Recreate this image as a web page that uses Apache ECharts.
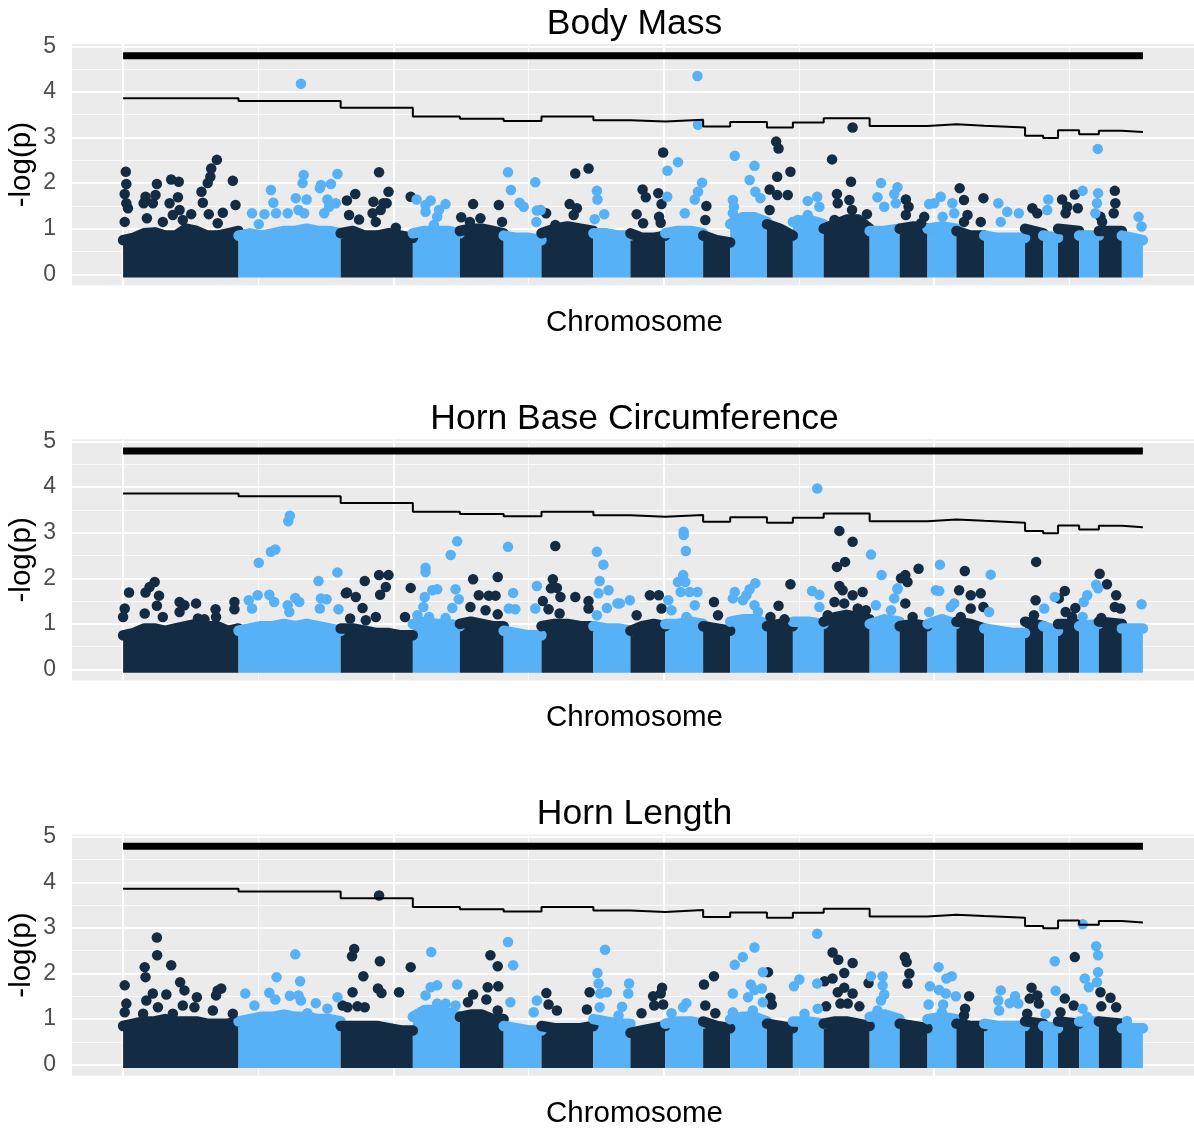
<!DOCTYPE html>
<html><head><meta charset="utf-8">
<script src="https://cdn.jsdelivr.net/npm/echarts@6/dist/echarts.min.js"></script>
<style>html,body{margin:0;padding:0;background:#fff}#chart{width:1194px;height:1129px}</style>
</head><body><div id="chart"></div>
<script>
// ---------------- data ----------------
const panelTitles = ['Body Mass', 'Horn Base Circumference', 'Horn Length'];
const xTitle = 'Chromosome';
const yTitle = '-log(p)';
const yTicks = [0, 1, 2, 3, 4, 5];
const yMinor = [0.5, 1.5, 2.5, 3.5, 4.5];
const xMajor = [0, 1000, 2000, 3000];
const xMinor = [500, 1500, 2500, 3500];
// cumulative chromosome boundaries (26 autosomes)
const chromBounds = [0, 427, 805, 1072, 1246, 1408, 1548, 1740, 1877, 2006, 2146, 2246, 2382, 2478, 2592, 2762, 2873, 2976, 3083, 3186, 3337, 3404, 3459, 3537, 3610, 3695, 3773];
// chromosome-wide significance threshold (step line)
const threshold = [3.86, 3.80, 3.65, 3.46, 3.41, 3.36, 3.46, 3.38, 3.35, 3.39, 3.24, 3.34, 3.22, 3.33, 3.42, 3.25, 3.25, 3.29, 3.26, 3.22, 3.04, 2.99, 3.16, 3.07, 3.15, 3.12];
// genome-wide threshold
const bonferroni = 4.79;

// dense SNP cloud: top of the cloud along each chromosome
const massBody = [
 [0.75,0.8,0.9,0.92,0.85,0.85,1.0,0.95,0.85,0.85,0.9,0.95],
 [0.85,0.9,0.85,0.9,0.95,0.95,1.0,0.95,0.95,0.9],
 [0.9,0.95,0.85,0.85,0.9,0.85,0.8],
 [0.9,0.95,0.95,0.95,0.9],
 [0.95,1.0,1.0,0.95,0.9],
 [0.85,0.8,0.8,0.75],
 [0.9,1.0,1.05,1.0,0.95],
 [0.9,0.9,0.85,0.85],
 [0.9,0.8,0.8,0.85],
 [0.9,0.95,0.95,0.9],
 [0.85,0.75,0.7],
 [1.1,1.25,1.25,1.15],
 [1.1,1.0,0.85],
 [1.15,1.2,1.1],
 [1.0,1.1,1.2,1.2,1.0],
 [0.95,0.95,1.0],
 [1.0,1.05,1.0],
 [1.0,1.05,1.0],
 [0.95,0.85,0.85],
 [0.85,0.8,0.8,0.8],
 [1.0,0.9],
 [0.85,0.8],
 [1.0,0.95],
 [0.85,0.85],
 [0.95,0.95],
 [0.85,0.75]
];
const massHBC = [
 [0.75,0.8,0.9,0.9,0.85,0.9,0.95,1.0,0.95,0.95,0.85,0.9],
 [0.85,0.9,0.95,0.95,1.0,0.95,1.0,0.95,0.9,0.85],
 [0.9,0.9,0.85,0.8,0.8,0.75,0.75],
 [1.0,1.05,1.0,1.0,0.95],
 [1.0,1.05,1.0,0.95,0.95],
 [0.85,0.8,0.75,0.75],
 [0.95,1.0,1.0,0.95,0.95],
 [0.95,0.9,0.9,0.85],
 [0.85,0.95,1.0,0.95],
 [1.0,1.0,1.05,1.0],
 [0.95,0.9,0.85],
 [1.05,1.1,1.1,1.0],
 [0.95,1.0,0.95],
 [1.05,1.05,1.0],
 [1.05,1.15,1.2,1.15,1.1],
 [1.0,1.1,1.05],
 [0.95,1.0,0.95],
 [1.0,1.1,1.0],
 [1.05,1.0,0.9],
 [0.9,0.85,0.8,0.8],
 [1.05,0.95],
 [0.95,0.85],
 [1.0,1.0],
 [0.95,1.0],
 [1.05,1.0],
 [0.9,0.9]
];
const massHL = [
 [0.85,0.9,0.95,0.95,1.0,0.95,0.95,0.95,0.9,0.9,0.9,0.95],
 [0.95,1.0,1.05,1.05,1.1,1.05,1.05,1.0,1.0,0.95],
 [0.85,0.85,0.85,0.85,0.8,0.75,0.75],
 [1.05,1.2,1.2,1.15,1.05],
 [1.05,1.1,1.1,1.0,1.0],
 [0.85,0.8,0.75,0.75],
 [0.85,0.8,0.8,0.8,0.85],
 [1.0,0.95,0.9,0.9],
 [0.7,0.75,0.8,0.85],
 [0.9,0.95,0.95,0.9],
 [0.95,0.85,0.8],
 [1.0,1.05,1.05,0.95],
 [0.9,0.85,0.8],
 [0.95,0.95,0.9],
 [0.9,0.95,0.95,0.9,0.85],
 [1.05,1.1,1.0],
 [0.9,0.85,0.8],
 [1.0,1.05,1.0],
 [0.9,0.85,0.85],
 [0.9,0.85,0.85,0.85],
 [0.95,0.9],
 [0.85,0.8],
 [0.95,0.9],
 [0.95,0.95],
 [0.95,0.9],
 [0.8,0.8]
];

// individual SNPs standing above the cloud: [position, -log(p)]
const peaksBody = [
 [10,2.25],[12,1.98],[6,1.76],[12,1.56],[18,1.45],[6,1.15],[83,1.70],[76,1.56],[88,1.23],[110,1.56],[120,1.74],[125,1.98],[147,1.15],[178,2.08],[206,2.03],[172,1.56],[203,1.69],[184,1.3],[209,1.41],[221,1.19],[252,1.32],[290,1.81],[295,1.57],[313,2.0],[323,2.14],[326,2.32],[347,2.51],[317,1.32],[350,1.12],[369,1.35],[406,2.05],[416,1.52],
 [477,1.34],[502,1.1],[523,1.32],[547,1.85],[556,1.57],[566,1.34],[609,1.34],[639,1.67],[649,1.41],[668,2.18],[664,2.0],[679,1.64],[670,1.34],[732,1.96],[728,1.89],[769,1.98],[793,2.2],[756,1.64],[762,1.48],[787,1.56],[744,1.34],[658,4.18],
 [828,1.62],[859,1.76],[836,1.3],[873,1.2],[947,2.24],[926,1.59],[963,1.56],[982,1.81],[975,1.56],[953,1.41],[923,1.34],[935,1.15],[1009,1.02],[1064,1.70],
 [1086,1.64],[1119,1.52],[1138,1.62],[1119,1.37],[1169,1.41],[1193,1.54],[1162,1.26],[1150,1.08],
 [1251,1.25],[1295,1.54],[1283,1.15],[1322,1.23],[1390,1.52],[1402,1.15],
 [1424,2.24],[1435,1.85],[1467,1.57],[1482,1.48],[1525,2.02],[1531,1.40],[1529,1.15],[1545,1.41],
 [1565,1.34],[1599,1.08],[1652,1.54],[1673,2.21],[1722,2.32],[1667,1.3],[1679,1.45],
 [1753,1.83],[1755,1.64],[1780,1.32],[1745,1.21],
 [1922,1.86],[1934,1.69],[1900,1.32],[1924,1.12],[1980,1.78],[1992,1.54],[1983,1.26],[1989,1.13],[1998,2.67],
 [2014,2.27],[2053,2.46],[2013,1.70],[2125,4.35],[2127,3.28],[2142,2.01],[2127,1.81],[2115,1.64],[2078,1.34],
 [2158,1.5],[2154,1.19],
 [2263,2.6],[2336,2.38],[2318,2.07],[2339,1.81],[2358,1.67],[2256,1.63],[2260,1.48],[2256,1.34],
 [2416,2.91],[2425,2.76],[2420,2.14],[2469,2.25],[2392,1.86],[2420,1.74],[2459,1.74],[2392,1.41],
 [2533,1.61],[2568,1.70],[2576,1.48],[2496,1.19],[2533,1.3],
 [2623,2.52],[2699,3.22],[2693,2.03],[2641,1.76],[2687,1.63],[2697,1.41],[2644,1.56],[2632,1.19],[2668,1.08],[2752,1.32],
 [2804,2.0],[2791,1.69],[2816,1.48],[2853,1.76],[2865,1.91],[2859,1.56],
 [2896,1.64],[2906,1.48],[2896,1.3],[2964,1.26],[2952,1.12],
 [3025,1.70],[3001,1.56],[2982,1.54],[3068,1.56],[3032,1.26],[3075,1.34],
 [3095,1.89],[3111,1.63],[3124,1.3],[3111,1.15],[3183,1.67],[3173,1.15],
 [3238,1.56],[3271,1.37],[3314,1.34],[3247,1.15],
 [3364,1.45],[3382,1.34],
 [3423,1.64],[3419,1.41],
 [3474,1.64],[3521,1.75],[3532,1.45],[3493,1.48],[3487,1.34],
 [3550,1.83],[3606,2.75],[3607,1.78],[3603,1.56],[3597,1.34],
 [3669,1.83],[3671,1.56],[3665,1.34],[3616,1.26],[3622,1.15],
 [3757,1.26],[3768,1.05]
];
const peaksHBC = [
 [22,1.69],[6,1.34],[0,1.15],[83,1.69],[98,1.81],[117,1.92],[133,1.62],[125,1.40],[80,1.23],[147,1.15],[209,1.48],[227,1.41],[270,1.45],[209,1.26],[277,1.12],[301,1.1],[342,1.32],[344,1.15],[412,1.48],[412,1.32],
 [502,2.34],[547,2.58],[563,2.63],[611,3.25],[617,3.37],[465,1.52],[498,1.63],[541,1.64],[559,1.48],[477,1.34],[609,1.41],[637,1.57],[652,1.48],[615,1.26],[723,1.94],[793,2.13],[732,1.56],[753,1.54],[797,1.32],[728,1.34],
 [824,1.67],[828,1.69],[861,1.59],[886,1.35],[894,1.94],[947,2.07],[982,2.07],[972,1.81],[951,1.64],[935,1.15],[840,1.12],[898,1.08],[1064,1.79],[1043,1.15],
 [1119,2.23],[1119,2.14],[1212,2.51],[1236,2.81],[1116,1.59],[1144,1.74],[1162,1.76],[1230,1.76],[1242,1.54],[1218,1.35],[1111,1.37],[1089,1.19],[1132,1.15],[1193,1.13],
 [1295,1.98],[1386,2.03],[1316,1.63],[1353,1.62],[1378,1.62],[1285,1.37],[1341,1.3],[1386,1.21],
 [1424,2.69],[1443,1.68],[1427,1.34],[1451,1.32],[1531,1.83],[1525,1.34],
 [1599,2.71],[1590,1.98],[1583,1.78],[1605,1.79],[1618,1.59],[1553,1.5],[1574,1.32],[1615,1.23],[1673,1.59],[1722,1.5],[1722,1.34],
 [1753,2.58],[1777,2.3],[1763,1.94],[1796,1.74],[1759,1.67],[1829,1.45],[1790,1.35],[1753,1.19],[1838,1.45],[1875,1.52],
 [1949,1.63],[1982,1.63],[1992,1.34],[1900,1.19],
 [2074,3.02],[2074,2.95],[2082,2.6],[2072,2.07],[2053,1.92],[2080,1.92],[2063,1.70],[2096,1.7],[2125,1.7],[2017,1.52],[2029,1.3],[2115,1.41],[2084,1.15],
 [2186,1.48],[2201,1.19],
 [2263,1.70],[2256,1.56],[2339,1.89],[2318,1.76],[2306,1.63],[2293,1.52],[2336,1.41],[2349,1.26],
 [2469,1.87],[2425,1.4],[2395,1.15],[2447,1.1],
 [2549,1.72],[2576,1.64],[2576,1.37],[2568,3.97],
 [2650,3.04],[2699,2.8],[2671,2.36],[2641,2.25],[2650,1.83],[2662,1.74],[2699,1.63],[2736,1.70],[2632,1.48],[2668,1.45],[2718,1.34],[2607,1.19],[2748,1.3],
 [2767,2.52],[2806,2.07],[2865,1.76],[2853,1.56],[2785,1.41],[2841,1.3],[2865,1.78],
 [2878,2.0],[2894,2.07],[2902,1.92],[2943,2.21],[2894,1.45],[2921,1.15],
 [3022,2.3],[3007,1.74],[3019,1.72],[3075,1.45],[3062,1.37],[2982,1.26],
 [3114,2.16],[3093,1.74],[3136,1.63],[3173,1.67],[3136,1.34],[3183,1.37],[3099,1.15],
 [3210,2.08],[3204,1.26],
 [3378,2.36],[3376,1.52],[3370,1.19],
 [3447,1.59],[3408,1.34],
 [3484,1.72],[3462,1.56],[3487,1.26],[3523,1.35],[3511,1.15],
 [3567,1.63],[3554,1.48],[3550,1.15],[3600,1.86],[3607,1.78],
 [3613,2.1],[3640,1.87],[3674,1.63],[3669,1.37],[3690,1.34],[3619,1.13],
 [3768,1.43]
];
const peaksHL = [
 [125,2.79],[126,2.40],[80,2.14],[83,1.92],[6,1.74],[178,2.18],[211,1.81],[227,1.63],[160,1.54],[110,1.56],[86,1.41],[129,1.26],[74,1.12],[12,1.34],[6,1.15],[273,1.48],[264,1.26],[221,1.3],[350,1.63],[363,1.67],[344,1.52],[332,1.19],[406,1.12],[184,1.12],
 [637,2.42],[568,1.92],[655,1.83],[452,1.56],[541,1.58],[563,1.43],[617,1.51],[649,1.52],[658,1.41],[486,1.3],[713,1.35],[793,1.48],[756,1.23],[682,1.13],
 [855,2.54],[847,2.38],[849,1.59],[812,1.3],[947,3.71],[950,2.27],[889,1.94],[943,1.67],[956,1.57],[1021,1.59],[1064,2.14],[830,1.26],[867,1.28],[894,1.26],
 [1140,2.47],[1138,1.70],[1162,1.74],[1236,1.76],[1119,1.52],[1162,1.34],[1193,1.34],[1230,1.3],[1082,1.06],
 [1359,2.4],[1386,2.16],[1349,1.70],[1388,1.72],[1295,1.54],[1344,1.43],[1276,1.37],[1386,1.19],
 [1424,2.69],[1443,2.18],[1433,1.37],[1531,1.41],[1519,1.15],
 [1566,1.57],[1574,1.32],[1605,1.19],[1726,1.59],[1716,1.21],
 [1783,2.52],[1755,2.01],[1759,1.78],[1790,1.59],[1765,1.56],[1763,1.26],[1846,1.27],[1833,1.08],[1872,1.78],[1869,1.56],
 [1994,1.69],[1989,1.56],[1961,1.5],[1965,1.3],[1998,1.32],[1918,1.13],
 [2029,1.13],[2084,1.35],[2072,1.26],
 [2149,1.76],[2186,1.94],[2154,1.3],[2191,1.13],
 [2263,2.19],[2293,2.36],[2336,2.57],[2367,2.03],[2256,1.56],[2322,1.76],[2363,1.67],[2336,1.64],[2312,1.48],[2256,1.15],[2330,1.19],[2367,1.37],
 [2386,2.03],[2395,1.47],[2400,1.32],
 [2568,2.87],[2502,1.87],[2482,1.72],[2568,1.78],[2521,1.12],[2570,1.23],
 [2625,2.46],[2646,2.3],[2699,2.23],[2668,2.01],[2595,1.83],[2625,1.89],[2644,1.59],[2668,1.69],[2699,1.56],[2654,1.34],[2681,1.34],[2724,1.28],[2601,1.28],[2758,1.79],
 [2767,1.94],[2810,1.94],[2810,1.74],[2816,1.54],[2804,1.41],[2791,1.19],
 [2892,2.36],[2899,2.25],[2909,2.0],[2902,1.78],
 [3017,2.14],[3046,1.89],[3066,1.94],[2985,1.72],[3019,1.64],[3044,1.56],[3081,1.5],[2980,1.32],[3034,1.32],[3029,1.15],
 [3130,1.5],[3115,1.23],[3111,1.08],
 [3247,1.63],[3238,1.41],[3300,1.5],[3312,1.34],[3241,1.19],[3280,1.35],
 [3361,1.69],[3354,1.45],[3382,1.52],[3388,1.34],[3345,1.12],
 [3447,2.27],[3450,1.62],[3413,1.12],
 [3521,2.36],[3484,1.45],[3517,1.3],[3468,1.15],
 [3550,3.08],[3600,2.6],[3607,2.4],[3607,2.03],[3558,1.89],[3573,1.70],[3603,1.81],[3550,1.23],[3567,1.05],
 [3616,1.59],[3653,1.47],[3619,1.28],[3674,1.26],
 [3714,0.96]
];

// ---------------- chart ----------------
const DARK = '#132B43', LIGHT = '#56B1F7';
const FONT = '"Liberation Sans", Arial, Helvetica, sans-serif';
const panels = [
  {title: panelTitles[0], mass: massBody, peaks: peaksBody},
  {title: panelTitles[1], mass: massHBC, peaks: peaksHBC},
  {title: panelTitles[2], mass: massHL, peaks: peaksHL}
];
const PANEL_TOP = 44, PANEL_H = 241.3, STEP = 395.2, LEFT = 72, WIDTH = 1125;
const X_MIN = -189, X_MAX = 3962, Y_MIN = -0.2405, Y_MAX = 5.05;
const DOT = 10.5;
const nChrom = chromBounds.length - 1;
function chromOf(x) { let i = 0; while (i < nChrom - 1 && x >= chromBounds[i + 1]) i++; return i; }

const grids = [], xAxes = [], yAxes = [], series = [], graphics = [];
panels.forEach((p, k) => {
  const top = PANEL_TOP + k * STEP;
  grids.push({left: LEFT, top: top, width: WIDTH, height: PANEL_H, show: true, backgroundColor: '#EBEBEB', borderWidth: 0, containLabel: false});
  xAxes.push({type: 'value', gridIndex: k, min: X_MIN, max: X_MAX,
    axisLine: {show: false}, axisTick: {show: false}, axisLabel: {show: false}, splitLine: {show: false}});
  yAxes.push({type: 'value', gridIndex: k, min: Y_MIN, max: Y_MAX,
    axisLine: {show: false},
    axisTick: {show: true, length: 7, lineStyle: {color: '#333333', width: 1}, customValues: yTicks},
    axisLabel: {show: true, customValues: yTicks, fontSize: 23, color: '#4D4D4D', fontFamily: FONT, margin: 16,
      formatter: v => (Math.abs(v - Math.round(v)) < 1e-6 ? String(Math.round(v)) : '')},
    splitLine: {show: false}});
  const gl = [];
  yMinor.forEach(v => gl.push({yAxis: v, lineStyle: {color: '#FAFAFA', width: 1, type: 'solid'}}));
  xMinor.forEach(v => gl.push({xAxis: v, lineStyle: {color: '#FAFAFA', width: 1, type: 'solid'}}));
  yTicks.forEach(v => gl.push({yAxis: v, lineStyle: {color: '#FFFFFF', width: 2, type: 'solid'}}));
  xMajor.forEach(v => gl.push({xAxis: v, lineStyle: {color: '#FFFFFF', width: 2, type: 'solid'}}));
  series.push({type: 'line', xAxisIndex: k, yAxisIndex: k, data: [[0, -1]], showSymbol: false, symbol: 'none',
    lineStyle: {opacity: 0}, silent: true, z: 1, animation: false,
    markLine: {silent: true, z: 1, symbol: 'none', label: {show: false}, animation: false, data: gl}});
  // dense cloud per chromosome
  p.mass.forEach((vals, c) => {
    const s = chromBounds[c], e = chromBounds[c + 1], n = vals.length;
    const color = c % 2 === 0 ? DARK : LIGHT;
    const data = vals.map((v, i) => [n === 1 ? (s + e) / 2 : s + (e - s) * i / (n - 1), v]);
    series.push({type: 'line', xAxisIndex: k, yAxisIndex: k, data: data, showSymbol: false, symbol: 'none',
      lineStyle: {width: DOT, color: color, cap: 'round', join: 'round'},
      areaStyle: {color: color, opacity: 1, origin: -0.07},
      silent: true, z: 2, animation: false});
  });
  // individual points
  const dk = [], lt = [];
  p.peaks.forEach(pt => (chromOf(pt[0]) % 2 === 0 ? dk : lt).push(pt));
  series.push({type: 'scatter', xAxisIndex: k, yAxisIndex: k, data: dk, symbol: 'circle', symbolSize: DOT,
    itemStyle: {color: DARK, opacity: 1}, silent: true, z: 3, animation: false});
  series.push({type: 'scatter', xAxisIndex: k, yAxisIndex: k, data: lt, symbol: 'circle', symbolSize: DOT,
    itemStyle: {color: LIGHT, opacity: 1}, silent: true, z: 3, animation: false});
  // chromosome-wide threshold step line
  const stepData = threshold.map((t, i) => [chromBounds[i], t]);
  stepData.push([chromBounds[nChrom], threshold[nChrom - 1]]);
  series.push({type: 'line', xAxisIndex: k, yAxisIndex: k, data: stepData, step: 'end', showSymbol: false, symbol: 'none',
    lineStyle: {color: '#000000', width: 2}, silent: true, z: 4, animation: false});
  // genome-wide threshold
  series.push({type: 'line', xAxisIndex: k, yAxisIndex: k, data: [[chromBounds[0], bonferroni], [chromBounds[nChrom], bonferroni]],
    showSymbol: false, symbol: 'none', lineStyle: {color: '#000000', width: 7, cap: 'butt'}, silent: true, z: 4, animation: false});
  // texts
  graphics.push({type: 'text', x: LEFT + WIDTH / 2, y: 24 + k * STEP, silent: true,
    style: {text: p.title, fontSize: 35.5, fontFamily: FONT, fill: '#000', align: 'center', verticalAlign: 'middle'}});
  graphics.push({type: 'text', x: LEFT + WIDTH / 2, y: 323 + k * STEP, silent: true,
    style: {text: xTitle, fontSize: 29.5, fontFamily: FONT, fill: '#000', align: 'center', verticalAlign: 'middle'}});
  graphics.push({type: 'text', x: 22, y: top + PANEL_H / 2, rotation: Math.PI / 2, silent: true,
    style: {text: yTitle, fontSize: 29.5, fontFamily: FONT, fill: '#000', align: 'center', verticalAlign: 'middle'}});
});

const chart = echarts.init(document.getElementById('chart'), null, {renderer: 'canvas'});
chart.setOption({
  animation: false,
  backgroundColor: '#FFFFFF',
  grid: grids, xAxis: xAxes, yAxis: yAxes, series: series, graphic: graphics
});
</script>
</body></html>
